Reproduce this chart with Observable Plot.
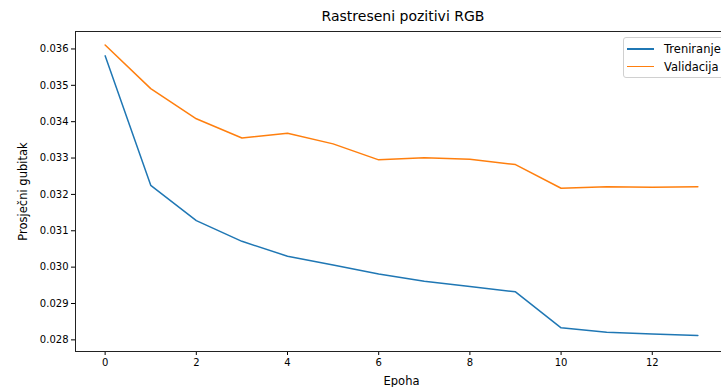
<!DOCTYPE html>
<html>
<head>
<meta charset="utf-8">
<script src="https://cdn.jsdelivr.net/npm/d3@7"></script>
<script src="https://cdn.jsdelivr.net/npm/@observablehq/plot@0.6"></script>
<style>
  body { margin: 0; background: #fff; font-family: "DejaVu Sans", sans-serif; }
  #wrap { position: relative; width: 721px; height: 387px; overflow: hidden; }
  #title { position: absolute; top: 8px; left: 75px; width: 656px; text-align: center; font-size: 14px; color: #000; }
  #legend { position: absolute; top: 37px; left: 623px; width: 110px; height: 39px; border: 1px solid #d0d0d0; border-radius: 3px; background: rgba(255,255,255,0.8); font-size: 11.5px; }
  .item { position: absolute; left: 3px; height: 14px; display: flex; align-items: center; }
  .sw { width: 27px; height: 1.6px; margin-right: 10px; }
  g[aria-label="x-axis label"] text { font-size: 11.5px; }
  g[aria-label="y-axis label"] text { font-size: 11.5px; }
</style>
</head>
<body>
<div id="wrap">
  <div id="chart"></div>
  <div id="title">Rastreseni pozitivi RGB</div>
  <div id="legend"></div>
</div>
<script>
const epochs = [0,1,2,3,4,5,6,7,8,9,10,11,12,13];
const train = [0.03581,0.03225,0.03128,0.03071,0.03030,0.03006,0.02981,0.02961,0.02947,0.02932,0.02833,0.02821,0.02816,0.02812];
const valid = [0.03611,0.03491,0.03408,0.03355,0.03368,0.03339,0.03295,0.03301,0.03297,0.03282,0.03217,0.03221,0.03220,0.03221];
const seriesNames = ["Treniranje", "Validacija"];
const colors = ["#1f77b4", "#ff7f0e"];
const xTicks = [0,2,4,6,8,10,12];
const yTicks = [0.028,0.029,0.030,0.031,0.032,0.033,0.034,0.035,0.036];

const data = [];
epochs.forEach((e, i) => {
  data.push({epoch: e, loss: train[i], series: seriesNames[0]});
  data.push({epoch: e, loss: valid[i], series: seriesNames[1]});
});

const chart = Plot.plot({
  width: 721,
  height: 387,
  marginLeft: 75,
  marginRight: -6,
  marginTop: 31,
  marginBottom: 36,
  style: {fontFamily: "DejaVu Sans, sans-serif", fontSize: "10px", color: "#000", background: "#fff"},
  x: {domain: [-0.65, 13.65], ticks: xTicks, tickFormat: d3.format("d"), label: "Epoha", labelAnchor: "center", labelArrow: "none", tickSize: 4, tickPadding: 3, labelOffset: 33},
  y: {domain: [0.02768, 0.03648], ticks: yTicks, tickFormat: d3.format(".3f"), label: "Prosječni gubitak", labelAnchor: "center", labelArrow: "none", tickSize: 4, tickPadding: 3, labelOffset: 57},
  color: {domain: seriesNames, range: colors},
  marks: [
    Plot.frame({stroke: "#222", strokeWidth: 1}),
    Plot.line(data, {x: "epoch", y: "loss", stroke: "series", strokeWidth: 1.5, z: "series"})
  ]
});
document.getElementById("chart").appendChild(chart);

const legend = document.getElementById("legend");
seriesNames.forEach((name, i) => {
  const item = document.createElement("div");
  item.className = "item";
  item.style.top = (4 + i * 17.5) + "px";
  const sw = document.createElement("span");
  sw.className = "sw";
  sw.style.background = colors[i];
  const t = document.createElement("span");
  t.textContent = name;
  item.appendChild(sw);
  item.appendChild(t);
  legend.appendChild(item);
});
</script>
</body>
</html>
